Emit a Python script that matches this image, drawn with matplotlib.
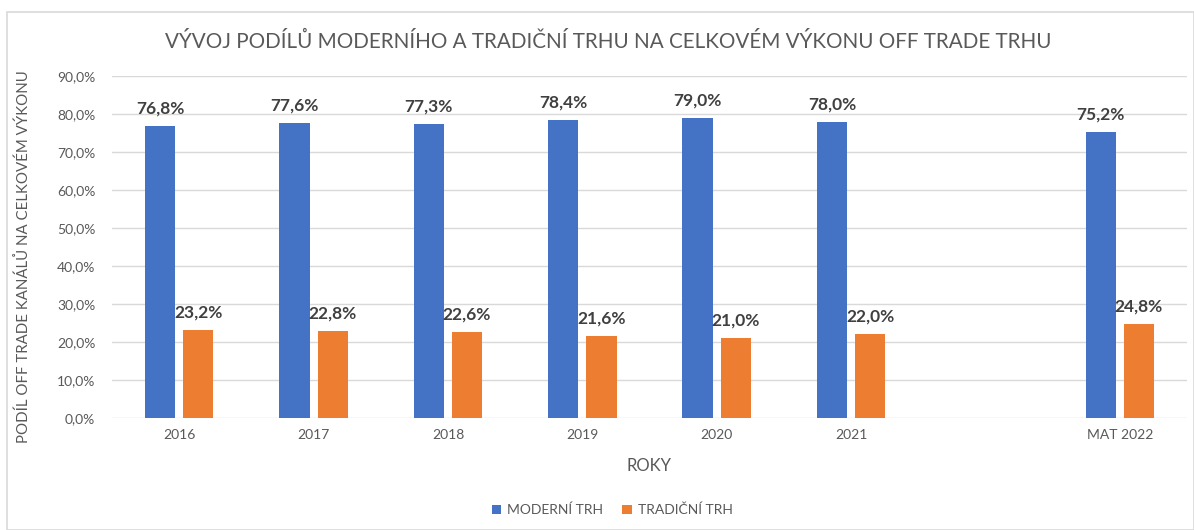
import matplotlib.pyplot as plt
from matplotlib.patches import Rectangle
import numpy as np

plt.rcParams['font.family'] = ['Lato', 'DejaVu Sans']

# data
categories = ["2016", "2017", "2018", "2019", "2020", "2021", "", "MAT 2022"]
modern = [76.8, 77.6, 77.3, 78.4, 79.0, 78.0, None, 75.2]
tradicni = [23.2, 22.8, 22.6, 21.6, 21.0, 22.0, None, 24.8]
series_names = ["MODERNÍ TRH", "TRADIČNÍ TRH"]

blue = "#4472C4"
orange = "#ED7D31"
text_gray = "#595959"


def fmt(v):
    return "{:.1f}%".format(v).replace(".", ",")


def main():
    fig = plt.figure(figsize=(11.94, 5.30), dpi=100)
    fig.patches.append(Rectangle((7 / 1194, 0), 1 - 7 / 1194, 1 - 12 / 530,
                                 transform=fig.transFigure, fill=False,
                                 edgecolor="#d9d9d9", linewidth=1.2))
    ax = fig.add_axes([112 / 1194, 1 - 418 / 530, (1187 - 112) / 1194, (418 - 76) / 530])

    x = np.arange(len(categories))
    w = 0.225
    off = 0.142
    idx = [i for i, v in enumerate(modern) if v is not None]
    mvals = [modern[i] for i in idx]
    tvals = [tradicni[i] for i in idx]
    xm = x[idx] - off
    xt = x[idx] + off
    ax.bar(xm, mvals, w, color=blue, label=series_names[0], zorder=3)
    ax.bar(xt, tvals, w, color=orange, label=series_names[1], zorder=3)

    for xi, v in zip(xm, mvals):
        ax.text(xi, v + 2.5, fmt(v), ha="center", va="bottom", fontsize=12.5,
                fontweight="bold", color="#404040", zorder=4)
    for xi, v in zip(xt, tvals):
        ax.text(xi, v + 2.5, fmt(v), ha="center", va="bottom", fontsize=12.5,
                fontweight="bold", color="#404040", zorder=4)

    ax.set_xlim(-0.5, len(categories) - 0.5)
    ax.set_ylim(0, 90)
    ax.set_yticks(np.arange(0, 91, 10))
    ax.set_yticklabels([fmt(v) for v in np.arange(0, 91, 10)])
    ax.set_xticks(x)
    ax.set_xticklabels(categories)
    ax.tick_params(axis="both", length=0, labelsize=10, colors=text_gray, pad=8)
    ax.tick_params(axis="y", pad=12)
    ax.grid(axis="y", color="#d9d9d9", linewidth=1, zorder=0)
    for s in ax.spines.values():
        s.set_visible(False)

    ax.set_xlabel("ROKY", fontsize=12, color=text_gray, labelpad=12)
    fig.text(24 / 1194, 1 - 257 / 530, "PODÍL OFF TRADE KANÁLŮ NA CELKOVÉM VÝKONU",
             rotation=90, ha="center", va="center", fontsize=10.8, color=text_gray)
    fig.text(608 / 1194, 1 - 42 / 530, "VÝVOJ PODÍLŮ MODERNÍHO A TRADIČNÍ TRHU NA CELKOVÉM VÝKONU OFF TRADE TRHU",
             ha="center", va="center", fontsize=14.9, color=text_gray)

    leg = fig.legend(loc="center", bbox_to_anchor=(612 / 1194, 1 - 510 / 530), ncol=2,
                     frameon=False, fontsize=10, handlelength=0.7, handleheight=0.7,
                     columnspacing=1.4, handletextpad=0.4)
    for t in leg.get_texts():
        t.set_color(text_gray)

    fig.savefig("out.png", dpi=100)


if __name__ == '__main__':
    main()
